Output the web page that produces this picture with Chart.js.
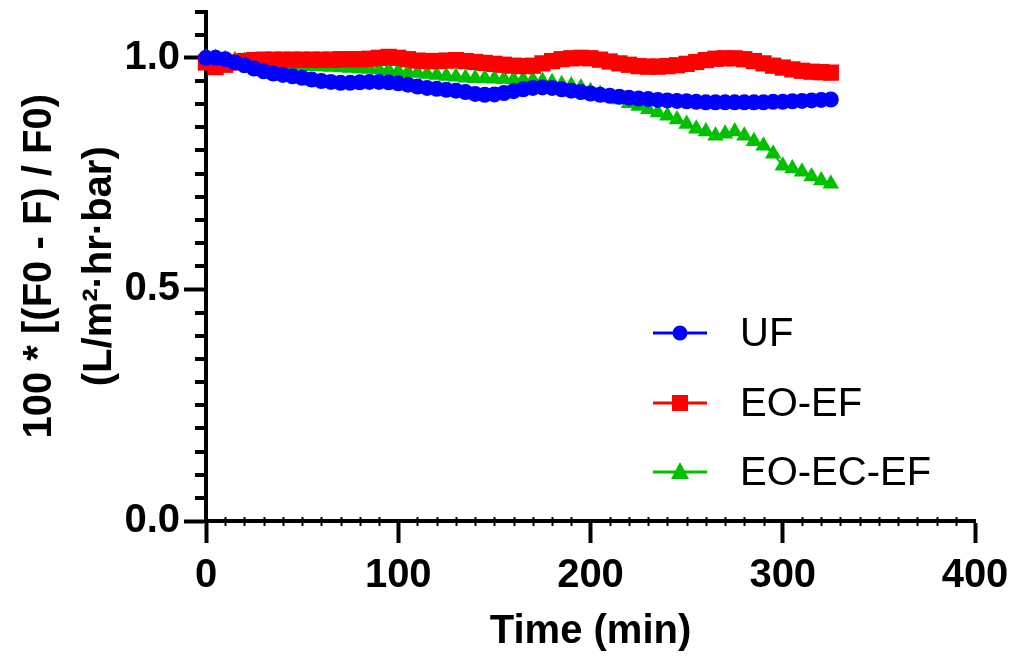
<!DOCTYPE html>
<html>
<head>
<meta charset="utf-8">
<script src="https://cdn.jsdelivr.net/npm/chart.js@4"></script>
<style>
  html, body { margin: 0; padding: 0; background: #fff; }
</style>
</head>
<body>
<canvas id="myChart" width="1013" height="664"></canvas>
<script>
// time points (min)
const times = [
  0, 5, 10, 15, 20, 25, 30, 35, 40, 45,
  50, 55, 60, 65, 70, 75, 80, 85, 90, 95,
  100, 105, 110, 115, 120, 125, 130, 135, 140, 145,
  150, 155, 160, 165, 170, 175, 180, 185, 190, 195,
  200, 205, 210, 215, 220, 225, 230, 235, 240, 245,
  250, 255, 260, 265, 270, 275, 280, 285, 290, 295,
  300, 305, 310, 315, 320, 325
];

const ufValues = [
  1.000, 1.000, 0.997, 0.990, 0.984, 0.977, 0.971, 0.966, 0.963, 0.960,
  0.957, 0.953, 0.950, 0.948, 0.946, 0.946, 0.947, 0.948, 0.948, 0.947,
  0.945, 0.942, 0.938, 0.935, 0.933, 0.931, 0.929, 0.926, 0.922, 0.920,
  0.921, 0.924, 0.928, 0.932, 0.935, 0.936, 0.935, 0.932, 0.929, 0.926,
  0.923, 0.920, 0.918, 0.916, 0.914, 0.912, 0.911, 0.909, 0.908, 0.907,
  0.906, 0.905, 0.904, 0.904, 0.904, 0.904, 0.904, 0.904, 0.904, 0.905,
  0.905, 0.906, 0.907, 0.908, 0.909, 0.910
];

const eoEfValues = [
  0.990, 0.980, 0.985, 0.990, 0.993, 0.995, 0.996, 0.996, 0.996, 0.996,
  0.996, 0.996, 0.996, 0.996, 0.997, 0.997, 0.997, 0.998, 1.000, 1.002,
  1.000, 0.997, 0.994, 0.993, 0.993, 0.994, 0.995, 0.993, 0.991, 0.989,
  0.987, 0.985, 0.983, 0.982, 0.983, 0.988, 0.993, 0.997, 0.999, 1.000,
  0.999, 0.996, 0.992, 0.988, 0.985, 0.982, 0.981, 0.981, 0.982, 0.984,
  0.987, 0.991, 0.995, 0.998, 0.999, 0.999, 0.997, 0.993, 0.988, 0.983,
  0.979, 0.975, 0.972, 0.970, 0.969, 0.968
];

const eoEcEfValues = [
  1.000, 1.000, 0.997, 0.995, 0.993, 0.990, 0.988, 0.986, 0.985, 0.984,
  0.983, 0.982, 0.981, 0.980, 0.979, 0.978, 0.977, 0.976, 0.975, 0.973,
  0.971, 0.969, 0.967, 0.965, 0.963, 0.961, 0.959, 0.957, 0.956, 0.956,
  0.955, 0.954, 0.953, 0.953, 0.952, 0.950, 0.947, 0.943, 0.940, 0.936,
  0.928, 0.922, 0.916, 0.910, 0.902, 0.896, 0.889, 0.882, 0.875, 0.867,
  0.857, 0.847, 0.841, 0.832, 0.836, 0.841, 0.832, 0.820, 0.810, 0.793,
  0.767, 0.761, 0.754, 0.744, 0.735, 0.728
];

const seriesNames = ['UF', 'EO-EF', 'EO-EC-EF'];
const xMajorTicks = [0, 100, 200, 300, 400];
const yMajorTicks = [0, 0.5, 1.0];
const xMinorStep = 10;
const yMinorStep = 0.05;

const FONT = '"Liberation Sans", Arial, Helvetica, sans-serif';

function toPoints(vals) {
  return vals.map((v, i) => ({ x: times[i], y: v }));
}

// minor ticks, drawn off the library scales
const minorTicks = {
  id: 'minorTicks',
  beforeDatasetsDraw(chart) {
    const { ctx, scales: { x, y } } = chart;
    ctx.save();
    ctx.strokeStyle = '#000';
    ctx.lineWidth = 4;
    ctx.beginPath();
    for (let k = 0; k * yMinorStep <= y.max + 1e-9; k++) {
      const v = k * yMinorStep;
      if (yMajorTicks.some(t => Math.abs(t - v) < 1e-9)) continue;
      const py = Math.round(y.getPixelForValue(v));
      ctx.moveTo(x.left - 11, py);
      ctx.lineTo(x.left, py);
    }
    ctx.stroke();
    ctx.lineWidth = 2;
    ctx.beginPath();
    for (let k = 0; k * xMinorStep <= x.max; k++) {
      const v = k * xMinorStep;
      if (xMajorTicks.includes(v)) continue;
      const px = Math.round(x.getPixelForValue(v)) + 0.5;
      ctx.moveTo(px, y.bottom - 4);
      ctx.lineTo(px, y.bottom + 5);
    }
    ctx.stroke();
    ctx.restore();
  }
};

// legend inside the plot
const insideLegend = {
  id: 'insideLegend',
  afterDraw(chart) {
    const ctx = chart.ctx;
    const rows = [333, 403, 472];
    ctx.save();
    chart.data.datasets.forEach((ds, i) => {
      const yy = rows[i];
      ctx.strokeStyle = ds.borderColor;
      ctx.lineWidth = 3;
      ctx.beginPath();
      ctx.moveTo(653, yy);
      ctx.lineTo(707, yy);
      ctx.stroke();
      ctx.fillStyle = ds.pointBackgroundColor;
      ctx.beginPath();
      if (ds.pointStyle === 'circle') {
        ctx.arc(680, yy, 7.5, 0, Math.PI * 2);
      } else if (ds.pointStyle === 'rect') {
        ctx.rect(672, yy - 8, 16, 16);
      } else {
        ctx.moveTo(680, yy - 10);
        ctx.lineTo(689, yy + 7);
        ctx.lineTo(671, yy + 7);
        ctx.closePath();
      }
      ctx.fill();
      ctx.fillStyle = '#000';
      ctx.font = '40px ' + FONT;
      ctx.textAlign = 'left';
      ctx.textBaseline = 'middle';
      ctx.fillText(ds.label, 740, yy + 2);
    });
    ctx.restore();
  }
};

const ctx = document.getElementById('myChart');

new Chart(ctx, {
  type: 'line',
  data: {
    datasets: [
      {
        label: seriesNames[0],
        data: toPoints(ufValues),
        borderColor: '#0000ff',
        backgroundColor: '#0000ff',
        pointBackgroundColor: '#0000ff',
        pointBorderColor: '#0000ff',
        pointStyle: 'circle',
        pointRadius: 8,
        pointBorderWidth: 0,
        borderWidth: 2,
        clip: false
      },
      {
        label: seriesNames[1],
        data: toPoints(eoEfValues),
        borderColor: '#ff0000',
        backgroundColor: '#ff0000',
        pointBackgroundColor: '#ff0000',
        pointBorderColor: '#ff0000',
        pointStyle: 'rect',
        pointRadius: 11.5,
        pointBorderWidth: 0,
        borderWidth: 2,
        clip: false
      },
      {
        label: seriesNames[2],
        data: toPoints(eoEcEfValues),
        borderColor: '#00c000',
        backgroundColor: '#00c000',
        pointBackgroundColor: '#00c000',
        pointBorderColor: '#00c000',
        pointStyle: 'triangle',
        pointRadius: 9.5,
        pointBorderWidth: 0,
        borderWidth: 2,
        clip: false
      }
    ]
  },
  options: {
    responsive: false,
    animation: false,
    devicePixelRatio: 1,
    layout: { padding: { top: 10, right: 38, left: 0, bottom: 0 } },
    plugins: {
      legend: { display: false },
      tooltip: { enabled: false }
    },
    scales: {
      x: {
        type: 'linear',
        min: 0,
        max: 400,
        afterBuildTicks: s => { s.ticks = xMajorTicks.map(v => ({ value: v })); },
        afterFit: s => { s.height = 143; s.paddingLeft = 0; s.paddingRight = 0; },
        ticks: {
          color: '#000',
          font: { family: FONT, size: 40, weight: 'bold' },
          padding: 9,
          maxRotation: 0
        },
        grid: {
          drawOnChartArea: false,
          drawTicks: true,
          tickLength: 22,
          tickWidth: 4,
          tickColor: '#000'
        },
        border: { display: true, color: '#000', width: 4 },
        title: {
          display: true,
          text: 'Time (min)',
          color: '#000',
          font: { family: FONT, size: 40, weight: 'bold', lineHeight: 1.2 },
          padding: { top: 0, bottom: 8 }
        }
      },
      y: {
        min: 0,
        max: 1.1,
        afterBuildTicks: s => { s.ticks = yMajorTicks.map(v => ({ value: v })); },
        afterFit: s => { s.width = 206; s.paddingTop = 0; s.paddingBottom = 0; },
        ticks: {
          color: '#000',
          font: { family: FONT, size: 40, weight: 'bold' },
          padding: 4,
          callback: v => Number(v).toFixed(1)
        },
        grid: {
          drawOnChartArea: false,
          drawTicks: true,
          tickLength: 22,
          tickWidth: 4,
          tickColor: '#000'
        },
        border: { display: true, color: '#000', width: 4 },
        title: {
          display: true,
          text: ['100 * [(F0 - F) / F0)', '(L/m\u00b2\u00b7hr\u00b7bar)'],
          color: '#000',
          font: { family: FONT, size: 40, weight: 'bold', lineHeight: 1.5 },
          padding: { top: 10, bottom: 0 }
        }
      }
    }
  },
  plugins: [minorTicks, insideLegend]
});
</script>
</body>
</html>
